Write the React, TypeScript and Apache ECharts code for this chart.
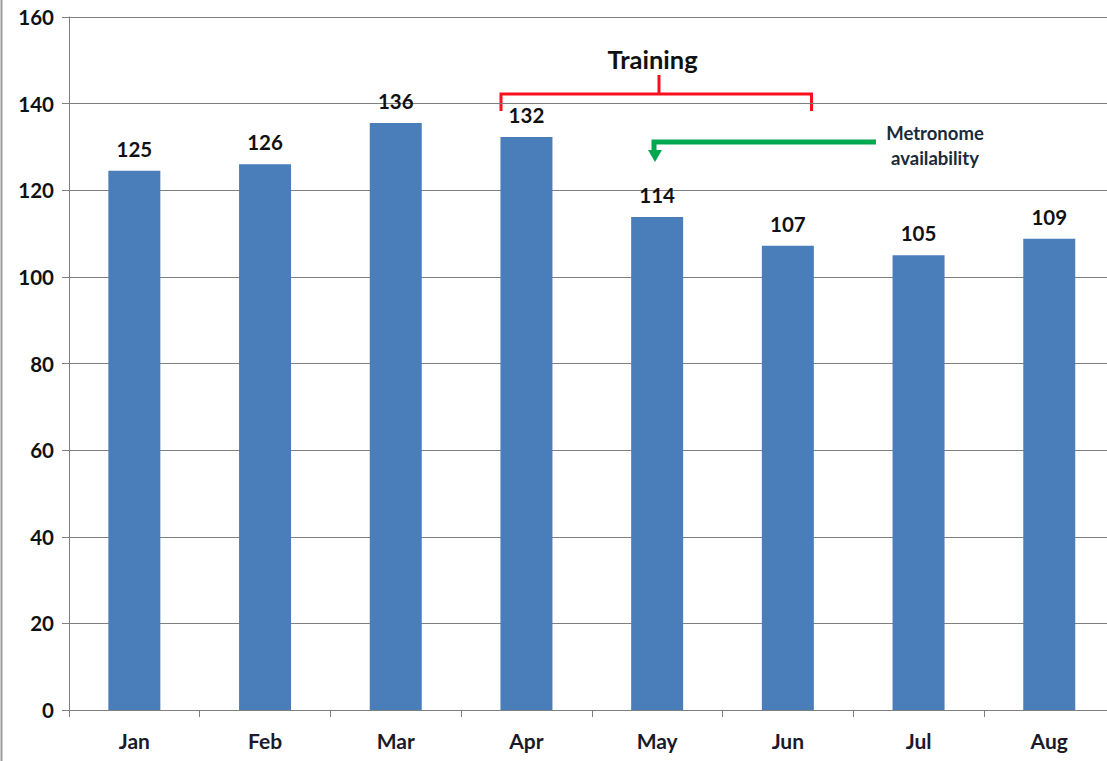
import React, { useEffect, useRef } from "react";
import * as echarts from "echarts";

const months = ["Jan", "Feb", "Mar", "Apr", "May", "Jun", "Jul", "Aug"];
const barValues = [124.5, 126, 135.5, 132.3, 113.8, 107.2, 105, 108.8];
const barLabels = ["125", "126", "136", "132", "114", "107", "105", "109"];
const trainingLabel = "Training";
const metronomeLines = ["Metronome", "availability"];

const FONT = "Lato, 'Open Sans', sans-serif";
const RED = "#fa0f1f";
const GREEN = "#00a84f";
const GRAY = "#7f7f7f";

export default function App() {
  const ref = useRef<HTMLDivElement>(null);
  useEffect(() => {
    const chart = echarts.init(ref.current!, undefined, { renderer: "svg" });
    chart.setOption({
      animation: false,
      backgroundColor: "#ffffff",
      grid: { left: 69, top: 17, width: 1045.6, height: 693, containLabel: false, outerBoundsMode: "none" },
      xAxis: {
        type: "category",
        data: months,
        axisLine: { lineStyle: { color: GRAY, width: 1 } },
        axisTick: { show: true, length: 7, alignWithLabel: false, lineStyle: { color: GRAY } },
        axisLabel: { color: "#1a1a2a", fontFamily: FONT, fontWeight: "bold", fontSize: 21, margin: 20 },
      },
      yAxis: {
        type: "value",
        min: 0,
        max: 160,
        interval: 20,
        axisLine: { show: true, lineStyle: { color: GRAY, width: 1 } },
        axisTick: { show: true, length: 7, lineStyle: { color: GRAY } },
        axisLabel: { color: "#111", fontFamily: FONT, fontWeight: "bold", fontSize: 20.5, margin: 15 },
        splitLine: { show: true, lineStyle: { color: GRAY, width: 1 } },
      },
      series: [
        {
          type: "bar",
          data: barValues,
          barWidth: 52,
          itemStyle: { color: "#4a7ebb" },
          label: {
            show: true,
            position: "top",
            distance: 11.5,
            color: "#111",
            fontFamily: FONT,
            fontWeight: "bold",
            fontSize: 20.5,
            formatter: (p: any) => barLabels[p.dataIndex],
          },
        },
      ],
      graphic: [
        { type: "line", shape: { x1: 1.5, y1: 0, x2: 1.5, y2: 761 }, style: { stroke: "#9a9a9a", lineWidth: 2 }, silent: true },
        { type: "polyline", shape: { points: [[501, 111], [501, 94], [811.5, 94], [811.5, 111]] }, style: { stroke: RED, lineWidth: 3, fill: "none" }, silent: true },
        { type: "line", shape: { x1: 659, y1: 75, x2: 659, y2: 94 }, style: { stroke: RED, lineWidth: 3 }, silent: true },
        { type: "text", x: 652.5, y: 59, style: { text: trainingLabel, fill: "#111", font: `bold 25.5px ${FONT}`, align: "center", verticalAlign: "middle" }, silent: true },
        { type: "polyline", shape: { points: [[876, 142], [654, 142], [654, 150]] }, style: { stroke: GREEN, lineWidth: 5, fill: "none" }, silent: true },
        { type: "polygon", shape: { points: [[648, 150], [662, 150], [655, 162]] }, style: { fill: GREEN }, silent: true },
        { type: "text", x: 935, y: 133, style: { text: metronomeLines[0], fill: "#1a2a3a", font: `bold 18.5px ${FONT}`, align: "center", verticalAlign: "middle" }, silent: true },
        { type: "text", x: 935, y: 158, style: { text: metronomeLines[1], fill: "#1a2a3a", font: `bold 18.5px ${FONT}`, align: "center", verticalAlign: "middle" }, silent: true },
        {
          type: "polygon",
          shape: { points: [[1048, 265], [1048, 288], [1053, 283], [1057, 291], [1060, 289], [1057, 282], [1063, 281]] },
          style: { fill: "#f4f8fc", stroke: "#10233f", lineWidth: 1 },
          silent: true,
        },
      ],
    });
    return () => chart.dispose();
  }, []);
  return <div ref={ref} style={{ position: "absolute", left: 0, top: 0, width: 1107, height: 761 }} />;
}
